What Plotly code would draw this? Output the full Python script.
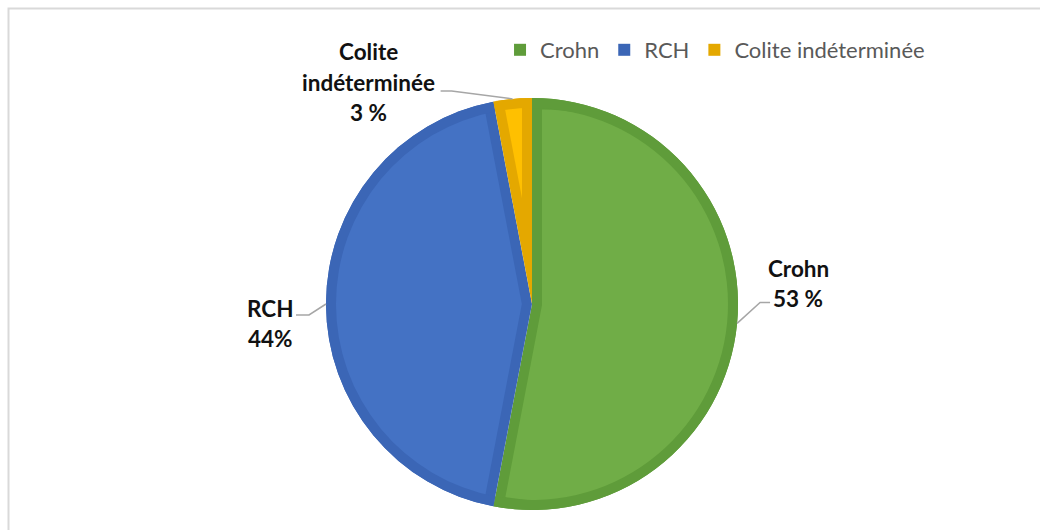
import math
import plotly.graph_objects as go

# ---------------- data ----------------
categories = ["Crohn", "RCH", "Colite indéterminée"]
values = [53, 44, 3]
label_lines = [["Crohn", "53 %"], ["RCH", "44%"], ["Colite", "indéterminée", "3 %"]]

# ---------------- style / layout ----------------
W, H = 1040, 530
CX, CY, R = 532, 304, 206      # pie centre / radius in px
BAND = 10                        # inner darker band width
light = ["#70AD47", "#4472C4", "#FFC000"]
dark = ["#5F9C3A", "#3B66B6", "#E4A800"]
FONT = "Lato"

# label placement relative to the arc point at the slice bisector
# (text line offsets, leader elbow, leader end)
label_style = [
    dict(text=[(61, -55), (61, -25)], elbow=(23, -21), end=(33, -21)),
    dict(text=[(-56, 4), (-56, 34)], elbow=(-17, 11), end=(-30, 11)),
    dict(text=[(-144, -47), (-144, -16), (-144, 14)], elbow=(-61, -8), end=(-72, -8)),
]


def dom(cx, cy, r):
    return dict(x=[(cx - r) / W, (cx + r) / W], y=[(H - cy - r) / H, (H - cy + r) / H])


def px(x, y):
    return x / W, 1 - y / H


total = sum(values)
fig = go.Figure()

# base layer: full pie in the darker shades (also drives the legend)
fig.add_trace(go.Pie(
    labels=categories, values=values, sort=False, direction="clockwise", rotation=0,
    marker=dict(colors=dark, line=dict(width=0)), textinfo="none",
    domain=dom(CX, CY, R), hoverinfo="label+percent", showlegend=True,
))

# lighter inner wedge per slice, inset from the radial edges
start = 0.0
bisectors = []
for i, v in enumerate(values):
    span = 360.0 * v / total
    half = math.radians(span / 2)
    beta = start + span / 2
    bisectors.append(beta)
    d = BAND / math.sin(half)
    b = math.radians(beta)
    pcx = CX + d * math.sin(b)
    pcy = CY - d * math.cos(b)
    r2 = R - d - 0.5
    fig.add_trace(go.Pie(
        labels=[categories[i], "_rest%d" % i], values=[v, total - v], sort=False,
        direction="clockwise", rotation=start if start <= 180 else start - 360,
        marker=dict(colors=[light[i], "rgba(0,0,0,0)"], line=dict(width=0)),
        textinfo="none", domain=dom(pcx, pcy, r2), hoverinfo="skip", showlegend=False,
    ))
    start += span

# darker outer ring on top
fig.add_trace(go.Pie(
    labels=categories, values=values, sort=False, direction="clockwise", rotation=0,
    hole=(R - BAND) / R,
    marker=dict(colors=dark, line=dict(width=0)), textinfo="none",
    domain=dom(CX, CY, R), hoverinfo="skip", showlegend=False,
))

shapes = []
annotations = []
for i, lines in enumerate(label_lines):
    b = math.radians(bisectors[i])
    ax = CX + R * math.sin(b)
    ay = CY - R * math.cos(b)
    st = label_style[i]
    p0 = px(ax, ay)
    p1 = px(ax + st["elbow"][0], ay + st["elbow"][1])
    p2 = px(ax + st["end"][0], ay + st["end"][1])
    shapes.append(dict(
        type="path", xref="paper", yref="paper",
        path="M %f %f L %f %f L %f %f" % (p0[0], p0[1], p1[0], p1[1], p2[0], p2[1]),
        line=dict(color="#A6A6A6", width=1.5),
    ))
    for line, (ox, oy) in zip(lines, st["text"]):
        tx, ty = px(ax + ox, ay + oy)
        annotations.append(dict(
            x=tx, y=ty, xref="paper", yref="paper", text="<b>%s</b>" % line,
            showarrow=False, xanchor="center", yanchor="middle",
            font=dict(family=FONT, size=22.5, color="#111111"),
        ))

# chart frame
shapes.append(dict(
    type="rect", xref="paper", yref="paper",
    x0=8.5 / W, x1=1.05, y0=-0.05, y1=1 - 8.5 / H,
    line=dict(color="#D9D9D9", width=2), fillcolor="rgba(0,0,0,0)",
))

fig.update_layout(
    width=W, height=H,
    margin=dict(l=0, r=0, t=0, b=0),
    paper_bgcolor="white", plot_bgcolor="white",
    shapes=shapes, annotations=annotations,
    legend=dict(
        orientation="h", x=0.4808, y=1 - 29 / H, xanchor="left", yanchor="top",
        font=dict(family=FONT, size=22, color="#595959"),
        traceorder="normal", itemclick=False, itemdoubleclick=False,
    ),
)

fig.write_html("out.html")
